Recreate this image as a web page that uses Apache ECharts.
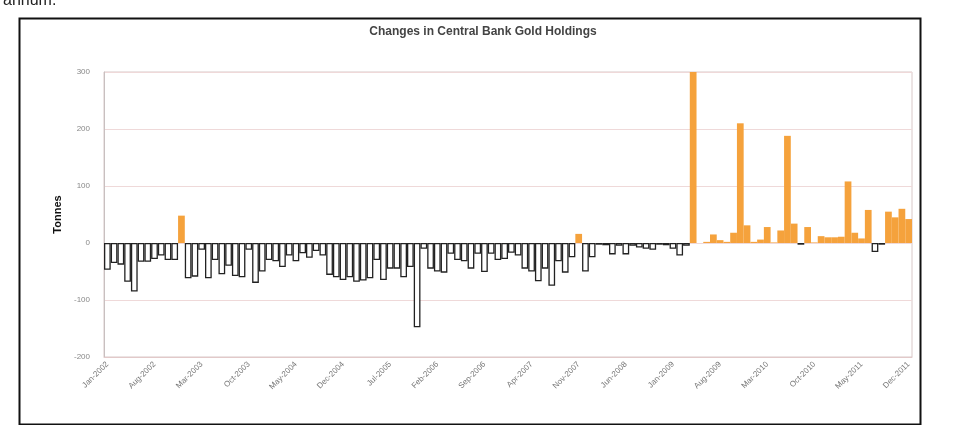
<!DOCTYPE html>
<html>
<head>
<meta charset="utf-8">
<script src="https://cdn.jsdelivr.net/npm/echarts@6/dist/echarts.min.js"></script>
<style>
  html, body { margin: 0; padding: 0; background: #fff; }
  #chart { width: 965px; height: 425px; }
</style>
</head>
<body>
<div id="chart"></div>
<script>
// Monthly changes, Jan-2002 .. Dec-2011 (tonnes)
const years = [2002, 2003, 2004, 2005, 2006, 2007, 2008, 2009, 2010, 2011];
const monthNames = ["Jan", "Feb", "Mar", "Apr", "May", "Jun", "Jul", "Aug", "Sep", "Oct", "Nov", "Dec"];

const v2002 = [-47, -35, -38, -68, -85, -33, -33, -28, -22, -30, -30, 48];
const v2003 = [-62, -59, -12, -62, -30, -55, -40, -58, -60, -12, -70, -50];
const v2004 = [-30, -32, -42, -22, -32, -18, -26, -14, -22, -56, -60, -65];
const v2005 = [-60, -68, -66, -62, -30, -65, -45, -45, -60, -42, -148, -10];
const v2006 = [-45, -50, -52, -19, -30, -32, -45, -19, -51, -19, -30, -28];
const v2007 = [-17, -22, -45, -50, -67, -45, -75, -32, -52, -25, 16, -50];
const v2008 = [-25, -3, -4, -20, -5, -20, -5, -8, -10, -12, -3, -4];
const v2009 = [-10, -22, -5, 454, 0, 2, 15, 5, 2, 18, 210, 31];
const v2010 = [2, 6, 28, 1, 22, 188, 34, -3, 28, 1, 12, 10];
const v2011 = [10, 11, 108, 18, 8, 58, -16, -3, 55, 45, 60, 42];

const values = [].concat(v2002, v2003, v2004, v2005, v2006, v2007, v2008, v2009, v2010, v2011);
const months = [];
years.forEach(y => monthNames.forEach(m => months.push(m + "-" + y)));

const yTicks = { min: -200, max: 300, interval: 100 };

const chart = echarts.init(document.getElementById("chart"), null, { renderer: "canvas" });

const option = {
  backgroundColor: "#fff",
  animation: false,
  title: {
    text: "Changes in Central Bank Gold Holdings",
    left: 478,
    textAlign: "center",
    top: 21,
    textStyle: { fontFamily: "Liberation Sans", fontSize: 12, fontWeight: "bold", color: "#444" }
  },
  graphic: [
    {
      type: "text", left: 3, top: -7,
      style: { text: "annum.", fontFamily: "Liberation Sans", fontSize: 16, fill: "#222" }
    },
    {
      type: "rect", left: 17, top: 16, z: 100, silent: true,
      shape: { width: 901, height: 406 },
      style: { fill: "none", stroke: "#111", lineWidth: 2 }
    }
  ],
  grid: {
    left: 104, right: 53, top: 72, bottom: 68,
    show: true, borderColor: "#d8c8c8", borderWidth: 1
  },
  xAxis: {
    type: "category",
    data: months,
    axisLine: { onZero: false, lineStyle: { color: "#e2c9c9" } },
    axisTick: { show: false },
    axisLabel: {
      interval: 6, rotate: 45, margin: 6,
      fontFamily: "Liberation Sans", fontSize: 8, color: "#777"
    },
    splitLine: { show: false }
  },
  yAxis: {
    type: "value",
    min: yTicks.min, max: yTicks.max, interval: yTicks.interval,
    name: "Tonnes",
    nameLocation: "middle",
    nameGap: 36,
    nameRotate: 90,
    nameTextStyle: { fontFamily: "Liberation Sans", fontSize: 11, fontWeight: "bold", color: "#111" },
    axisLine: { show: true, lineStyle: { color: "#c8c0c0" } },
    axisTick: { show: false },
    axisLabel: { fontFamily: "Liberation Sans", fontSize: 8, color: "#888", margin: 14 },
    splitLine: { lineStyle: { color: "#efd9d9", width: 1 } }
  },
  series: [{
    type: "bar",
    clip: true,
    barCategoryGap: "0%",
    data: values.map(v => ({
      value: v,
      itemStyle: v >= 0
        ? { color: "#f5a23c" }
        : { color: "#fff", borderColor: "#222", borderWidth: 1.3 }
    }))
  }]
};

chart.setOption(option);
</script>
</body>
</html>
